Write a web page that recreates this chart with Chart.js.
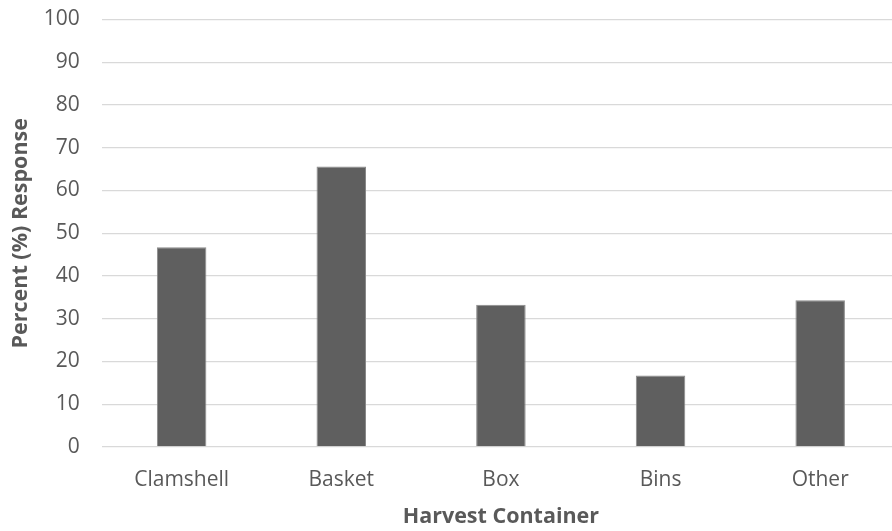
<!DOCTYPE html>
<html>
<head>
<meta charset="utf-8">
<script src="https://cdn.jsdelivr.net/npm/chart.js@4/dist/chart.umd.min.js"></script>
<style>
  html, body { margin: 0; padding: 0; background: #fff; overflow: hidden; }
  canvas { display: block; }
</style>
</head>
<body>
<canvas id="chart" width="900" height="531"></canvas>
<script>
// data
const categories = ['Clamshell', 'Basket', 'Box', 'Bins', 'Other'];
const percentResponse = [46.7, 65.6, 33.3, 16.7, 34.3];
const yTicks = [0, 10, 20, 30, 40, 50, 60, 70, 80, 90, 100];

const textColor = '#595959';
const fontFamily = '"Open Sans", "Noto Sans", sans-serif';

const ctx = document.getElementById('chart').getContext('2d');
new Chart(ctx, {
  type: 'bar',
  data: {
    labels: categories,
    datasets: [{
      data: percentResponse,
      backgroundColor: '#5f5f5f',
      borderColor: '#8a8a8a',
      borderWidth: 1,
      categoryPercentage: 1,
      barPercentage: 0.31,
    }],
  },
  options: {
    responsive: false,
    animation: false,
    devicePixelRatio: 1,
    layout: { padding: { left: 0, top: 19.5, right: 0, bottom: 0 } },
    plugins: {
      legend: { display: false },
      tooltip: { enabled: false },
    },
    scales: {
      x: {
        grid: { display: false, drawTicks: false },
        border: { display: false },
        ticks: { color: textColor, font: { family: fontFamily, size: 21 }, padding: 20 },
        title: {
          display: true,
          text: 'Harvest Container',
          color: textColor,
          font: { family: fontFamily, size: 21.5, weight: 'bold' },
          padding: { top: -8, bottom: 1 },
        },
      },
      y: {
        min: 0,
        max: 100,
        afterBuildTicks: (axis) => { axis.ticks = yTicks.map(v => ({ value: v })); },
        // keep the top label from pushing the plot down
        afterFit: (axis) => { axis.paddingTop = 0; axis.paddingBottom = 0; },
        grid: { color: '#d9d9d9', lineWidth: 1.3, drawTicks: false },
        border: { display: false },
        ticks: { color: textColor, font: { family: fontFamily, size: 21 }, padding: 22 },
        title: {
          display: true,
          text: 'Percent (%) Response',
          color: textColor,
          font: { family: fontFamily, size: 21.5, weight: 'bold' },
          padding: { top: 8, bottom: -12 },
        },
      },
    },
  },
});
</script>
</body>
</html>
